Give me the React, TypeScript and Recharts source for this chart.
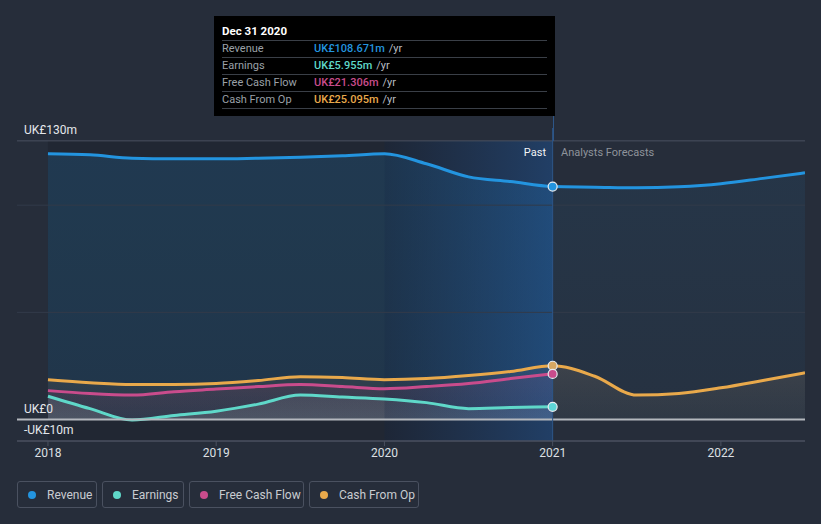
import React from 'react';
import { ComposedChart, Area, Line, XAxis, YAxis, ReferenceLine, ReferenceArea } from 'recharts';

// quarterly time points (years), past ends at 2021, forecast to mid 2022
const periods = [2018, 2018.25, 2018.5, 2018.75, 2019, 2019.25, 2019.5, 2019.75, 2020, 2020.25, 2020.5, 2020.75, 2021, 2021.25, 2021.5, 2021.75, 2022, 2022.25, 2022.5];
const revenue = [124.0, 123.5, 121.9, 121.6, 121.6, 121.9, 122.3, 123.0, 124.0, 119.3, 113.2, 111.0, 108.671, 108.4, 108.1, 108.6, 110.0, 112.5, 115.1];
const cashFromOp = [18.6, 17.2, 16.3, 16.3, 16.8, 18.2, 20.0, 19.6, 18.6, 19.1, 20.5, 22.4, 25.095, 20.2, 11.4, 12.2, 14.8, 18.2, 21.8];
const freeCashFlow = [13.5, 12.1, 11.4, 13.0, 14.2, 15.4, 16.3, 15.4, 14.4, 15.4, 16.8, 19.1, 21.306];
const earnings = [10.9, 5.1, -0.2, 1.9, 3.9, 7.2, 11.4, 10.5, 9.6, 7.9, 5.1, 5.6, 5.955];
const xTicks = [2018, 2019, 2020, 2021, 2022];
const PAST_END = 2021;

const COLORS = {
  revenue: '#2394df',
  earnings: '#5fd8c9',
  fcf: '#c94c8c',
  cash: '#e9a94b',
};

const tooltipRows = [
  { label: 'Revenue', value: 'UK£108.671m', color: COLORS.revenue },
  { label: 'Earnings', value: 'UK£5.955m', color: COLORS.earnings },
  { label: 'Free Cash Flow', value: 'UK£21.306m', color: COLORS.fcf },
  { label: 'Cash From Op', value: 'UK£25.095m', color: COLORS.cash },
];

const legendItems = [
  { label: 'Revenue', color: COLORS.revenue, width: 80 },
  { label: 'Earnings', color: COLORS.earnings, width: 82 },
  { label: 'Free Cash Flow', color: COLORS.fcf, width: 115 },
  { label: 'Cash From Op', color: COLORS.cash, width: 110 },
];

const rows = periods.map((t, i) => ({
  t,
  revenue: revenue[i],
  revPast: t <= PAST_END ? revenue[i] : null,
  revFc: t >= PAST_END ? revenue[i] : null,
  cash: cashFromOp[i],
  cashPast: t <= PAST_END ? cashFromOp[i] : null,
  cashFc: t >= PAST_END ? cashFromOp[i] : null,
  fcf: i < freeCashFlow.length ? freeCashFlow[i] : null,
  earnings: i < earnings.length ? earnings[i] : null,
}));

const FONT = 'Roboto, "Noto Sans", sans-serif';

const endDot = (color: string) => (props: any) => {
  const { cx, cy, payload, index } = props;
  if (payload.t !== PAST_END || cy == null) return <g key={`d${index}`} />;
  return <circle key={`d${index}`} cx={cx} cy={cy} r={4.5} fill={color} stroke="#e8ecf0" strokeWidth={1.2} />;
};

const yLabel = (value: string) => ({
  value,
  position: 'insideBottomLeft' as const,
  offset: 7,
  fill: '#e4e7eb',
  fontSize: 12,
  fontFamily: FONT,
});

export default function App() {
  return (
    <div style={{ position: 'fixed', left: 0, top: 0, width: 821, height: 524, background: '#262d3a', fontFamily: FONT, overflow: 'hidden' }}>
      <ComposedChart width={821} height={524} data={rows} margin={{ top: 128, right: 16, left: 17, bottom: 53 }}>
        <defs>
          <linearGradient id="revPastFill" x1="0" y1="0" x2="0" y2="1">
            <stop offset="0%" stopColor={COLORS.revenue} stopOpacity={0.36} />
            <stop offset="100%" stopColor={COLORS.revenue} stopOpacity={0.28} />
          </linearGradient>
          <linearGradient id="revFcFill" x1="0" y1="0" x2="0" y2="1">
            <stop offset="0%" stopColor={COLORS.revenue} stopOpacity={0.14} />
            <stop offset="100%" stopColor={COLORS.revenue} stopOpacity={0.07} />
          </linearGradient>
          <linearGradient id="cashFill" x1="0" y1="0" x2="0" y2="1">
            <stop offset="0%" stopColor="#6b625a" stopOpacity={0.55} />
            <stop offset="100%" stopColor="#5a5a5a" stopOpacity={0.3} />
          </linearGradient>
          <linearGradient id="fcfFill" x1="0" y1="0" x2="0" y2="1">
            <stop offset="0%" stopColor={COLORS.fcf} stopOpacity={0.25} />
            <stop offset="100%" stopColor={COLORS.fcf} stopOpacity={0.12} />
          </linearGradient>
          <linearGradient id="earnFill" x1="0" y1="0" x2="0" y2="1">
            <stop offset="0%" stopColor="#c8d4d4" stopOpacity={0.2} />
            <stop offset="100%" stopColor="#d8dede" stopOpacity={0.35} />
          </linearGradient>
          <linearGradient id="bandFill" x1="0" y1="0" x2="1" y2="0">
            <stop offset="0%" stopColor="#0e1a30" stopOpacity={0.35} />
            <stop offset="100%" stopColor="#1a5aa8" stopOpacity={0.4} />
          </linearGradient>
        </defs>
        <XAxis
          type="number"
          dataKey="t"
          domain={[2017.816, 2022.5]}
          ticks={xTicks}
          allowDataOverflow
          height={30}
          axisLine={{ stroke: '#4a5160' }}
          tickLine={{ stroke: '#4a5160' }}
          tickSize={5}
          tick={{ fill: '#dde0e4', fontSize: 12, fontFamily: FONT }}
          tickFormatter={(v: number) => String(v)}
        />
        <YAxis type="number" domain={[-10, 136]} hide allowDataOverflow />
        <ReferenceLine y={130} stroke="#4a5160" label={yLabel('UK£130m')} />
        <ReferenceLine y={100} stroke="#323a49" />
        <ReferenceLine y={50} stroke="#323a49" />
        <ReferenceLine y={-10} stroke="#4a5160" label={yLabel('-UK£10m')} />

        <Area dataKey="revPast" type="monotone" baseValue={0} stroke="none" fill="url(#revPastFill)" isAnimationActive={false} />
        <Area dataKey="revFc" type="monotone" baseValue={0} stroke="none" fill="url(#revFcFill)" isAnimationActive={false} />
        <Area dataKey="cashPast" type="monotone" baseValue={0} stroke="none" fill="url(#cashFill)" isAnimationActive={false} />
        <Area dataKey="cashFc" type="monotone" baseValue={0} stroke="none" fill="url(#cashFill)" isAnimationActive={false} />
        <Area dataKey="fcf" type="monotone" baseValue={0} stroke="none" fill="url(#fcfFill)" isAnimationActive={false} />
        <Area dataKey="earnings" type="monotone" baseValue={0} stroke="none" fill="url(#earnFill)" isAnimationActive={false} />

        <Line dataKey="revenue" type="monotone" stroke={COLORS.revenue} strokeWidth={3} dot={false} isAnimationActive={false} />
        <Line dataKey="cash" type="monotone" stroke={COLORS.cash} strokeWidth={3} dot={false} isAnimationActive={false} />
        <Line dataKey="fcf" type="monotone" stroke={COLORS.fcf} strokeWidth={3} dot={false} isAnimationActive={false} />
        <Line dataKey="earnings" type="monotone" stroke={COLORS.earnings} strokeWidth={3} dot={false} isAnimationActive={false} />

        <ReferenceArea x1={2018} x2={2020} y1={-10} y2={130} fill="#0c0f16" fillOpacity={0.18} stroke="none" />
        <ReferenceArea x1={2020} x2={2021} y1={-10} y2={130} fill="url(#bandFill)" fillOpacity={1} stroke="none" />
        <ReferenceLine y={0} stroke="#b4b8be" strokeWidth={2} label={yLabel('UK£0')} />
        <ReferenceLine x={2021} stroke="#2d5688" strokeWidth={1} />

        <Line dataKey="revenue" type="monotone" stroke="none" dot={endDot(COLORS.revenue)} legendType="none" isAnimationActive={false} />
        <Line dataKey="cash" type="monotone" stroke="none" dot={endDot('#d7a862')} legendType="none" isAnimationActive={false} />
        <Line dataKey="fcf" type="monotone" stroke="none" dot={endDot(COLORS.fcf)} legendType="none" isAnimationActive={false} />
        <Line dataKey="earnings" type="monotone" stroke="none" dot={endDot('#5ed6d8')} legendType="none" isAnimationActive={false} />
      </ComposedChart>

      {/* cursor line between tooltip and plot */}
      <div style={{ position: 'absolute', left: 553, top: 116, width: 1, height: 25, background: '#2d5688' }} />

      <div style={{ position: 'absolute', left: 500, top: 146, width: 46, textAlign: 'right', color: '#f2f4f6', fontSize: 11 }}>Past</div>
      <div style={{ position: 'absolute', left: 561, top: 146, color: '#8e939b', fontSize: 11 }}>Analysts Forecasts</div>

      {/* tooltip */}
      <div style={{ position: 'absolute', left: 214, top: 16, width: 341, height: 100, background: '#000', boxSizing: 'border-box', padding: '7px 8px 0 8px' }}>
        <div style={{ color: '#fff', fontWeight: 700, fontSize: 11.5, height: 17, lineHeight: '17px', borderBottom: '1px solid #3a3f47' }}>Dec 31 2020</div>
        {tooltipRows.map((r) => (
          <div key={r.label} style={{ display: 'flex', height: 16, lineHeight: '16px', fontSize: 11, borderBottom: '1px solid #3a3f47' }}>
            <span style={{ width: 92, color: '#9ba0a8' }}>{r.label}</span>
            <span style={{ color: r.color, fontWeight: 500 }}>{r.value}</span>
            <span style={{ color: '#b8bcc2', marginLeft: 4 }}>/yr</span>
          </div>
        ))}
      </div>

      {/* legend */}
      <div style={{ position: 'absolute', left: 17, top: 481, display: 'flex', gap: 5 }}>
        {legendItems.map((it) => (
          <div key={it.label} style={{ width: it.width, height: 27, boxSizing: 'border-box', border: '1px solid #4a5160', borderRadius: 3, display: 'flex', alignItems: 'center', paddingLeft: 10, fontSize: 12, color: '#c9ccd1' }}>
            <span style={{ width: 8, height: 8, borderRadius: 4, background: it.color, marginRight: 11 }} />
            {it.label}
          </div>
        ))}
      </div>
    </div>
  );
}
